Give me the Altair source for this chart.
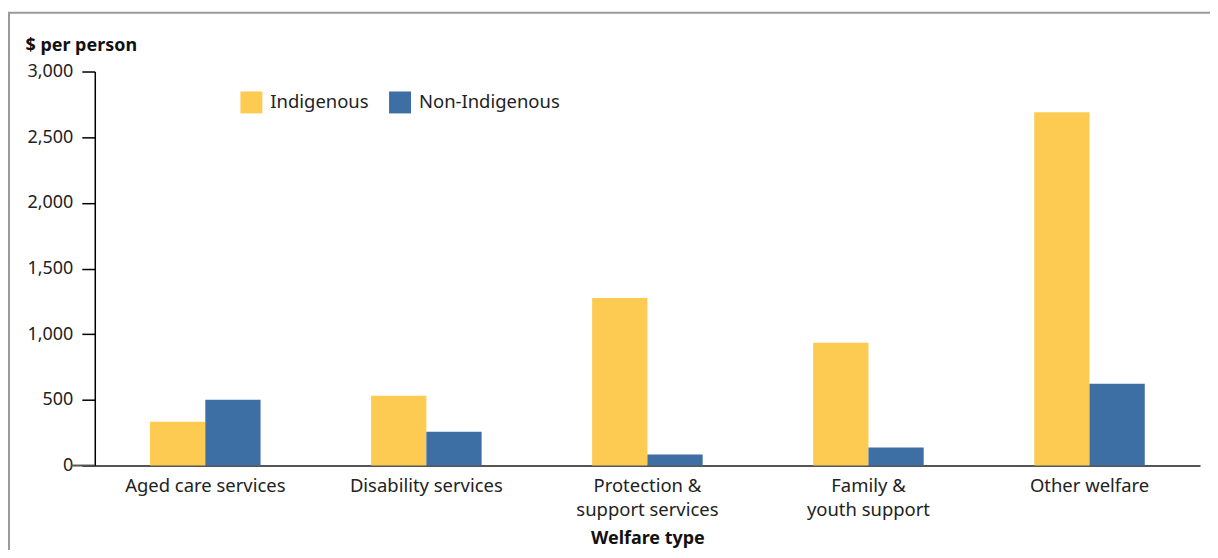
import altair as alt
import pandas as pd

categories = ["Aged care services", "Disability services", "Protection &\nsupport services",
              "Family &\nyouth support", "Other welfare"]
groups = ["Indigenous", "Non-Indigenous"]
indigenous = [334, 532, 1276, 934, 2689]
non_indigenous = [501, 258, 84, 137, 623]
y_ticks = [0, 500, 1000, 1500, 2000, 2500, 3000]
colors = ["#FECB52", "#3E6FA4"]

rows = []
for c, a, b in zip(categories, indigenous, non_indigenous):
    rows.append({"category": c, "group": groups[0], "value": a})
    rows.append({"category": c, "group": groups[1], "value": b})
df = pd.DataFrame(rows)

FONT = "Noto Sans"

bars = alt.Chart(df).mark_bar().encode(
    x=alt.X("category:N", sort=categories,
            scale=alt.Scale(paddingInner=0.5, paddingOuter=0.25),
            axis=alt.Axis(title="Welfare type", labelAngle=0, ticks=False,
                          domainColor="#555555", domainWidth=2,
                          labelExpr="split(datum.label, '\\n')",
                          labelFontSize=18.5, labelFont=FONT, labelColor="#222222",
                          labelPadding=11, labelBaseline="top", labelLineHeight=24,
                          titleFont=FONT, titleFontSize=18, titleFontWeight="bold",
                          titleColor="#111111", titleBaseline="alphabetic", titleY=78)),
    xOffset=alt.XOffset("group:N", sort=groups,
                        scale=alt.Scale(paddingInner=0, paddingOuter=0)),
    y=alt.Y("value:Q", scale=alt.Scale(domain=[0, 3000], nice=False),
            axis=alt.Axis(title="$ per person", values=y_ticks, format=",d", grid=False,
                          domainColor="#000000", domainWidth=1.5,
                          tickColor="#000000", tickWidth=1.5, tickSize=13,
                          labelPadding=9, labelFontSize=18, labelFont=FONT,
                          labelColor="#222222",
                          titleAngle=0, titleX=-70, titleY=-21, titleAlign="left",
                          titleBaseline="alphabetic", titleFont=FONT, titleFontSize=18,
                          titleFontWeight="bold", titleColor="#111111")),
    color=alt.Color("group:N", sort=groups, title=None,
                    scale=alt.Scale(domain=groups, range=colors),
                    legend=alt.Legend(orient="none", legendX=146, legendY=20,
                                      direction="horizontal", symbolType="square",
                                      symbolSize=484, symbolStrokeWidth=0,
                                      symbolOpacity=1, labelFontSize=18.5, labelFont=FONT,
                                      labelColor="#222222", labelOffset=8,
                                      columnPadding=20)),
)

zero_ext = alt.Chart(pd.DataFrame({"v": [0]})).mark_rule(color="#555555", strokeWidth=2).encode(
    y=alt.Y("v:Q"), x=alt.value(-24), x2=alt.value(0)
)

frame = alt.Chart(pd.DataFrame({"v": [0]})).mark_rect(
    filled=False, color="#9a9a9a", strokeWidth=2
).encode(
    x=alt.value(-86), x2=alt.value(1300), y=alt.value(-59), y2=alt.value(600)
)

chart = alt.layer(frame, bars, zero_ext).properties(
    width=1108, height=395,
    background="white",
    autosize=alt.AutoSizeParams(type="none"),
    padding={"left": 87, "top": 63, "right": 10, "bottom": 84},
).configure_view(strokeWidth=0)

chart.save("out.html", embed_options={"renderer": "svg", "actions": False})
